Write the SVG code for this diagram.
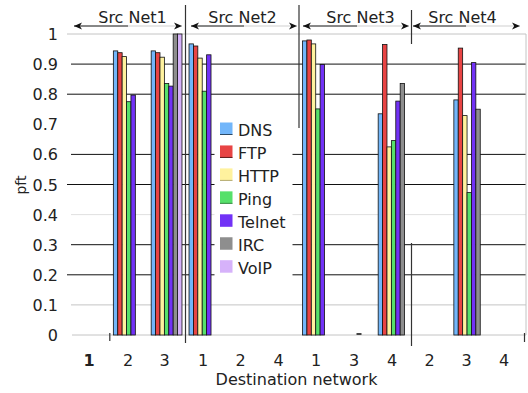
<svg xmlns="http://www.w3.org/2000/svg" width="528" height="393" viewBox="0 0 528 393">
  <style>
    text { font-family: "DejaVu Sans", Verdana, sans-serif; font-size: 16px; fill: #222; }
    .yl { text-anchor: end; }
    .xl { text-anchor: middle; }
    .hd { text-anchor: middle; }
    .gd { stroke: #111; stroke-width: 1; }
    .gl { stroke: #c4c4c4; stroke-width: 1; }
    .bar { stroke: #111; stroke-width: 0.8; }
    .dns { fill: #72b6fa; }
    .ftp { fill: #e84444; }
    .http { fill: #fff29e; }
    .ping { fill: #56e06a; }
    .telnet { fill: #7232f6; }
    .irc { fill: #8e8e8e; }
    .voip { fill: #d6b2fa; }
    .sep { stroke: #333; stroke-width: 1.2; }
    .arrA { stroke: #111; stroke-width: 1; fill: none; }
    .arrB { stroke: #cfcfcf; stroke-width: 1; fill: none; }
  </style>
  <defs>
    <marker id="ah" viewBox="0 0 8 8" refX="8" refY="4" markerWidth="8" markerHeight="8" orient="auto-start-reverse" markerUnits="userSpaceOnUse">
      <path d="M0,0.6 L8,4 L0,7.4 L2.2,4 Z" fill="#111"/>
    </marker>
  </defs>

  <rect width="528" height="393" fill="#fff"/>

  <!-- gridlines: 1 at y=34, 0 at y=335 -->
  <g id="grid">
    <line class="gl" x1="67" y1="34" x2="526" y2="34"/>
    <line class="gd" x1="71" y1="64.1" x2="526" y2="64.1"/>
    <line class="gd" x1="67" y1="94.2" x2="526" y2="94.2"/>
    <line class="gd" x1="71" y1="154.4" x2="526" y2="154.4"/>
    <line class="gd" x1="67" y1="184.5" x2="526" y2="184.5"/>
    <line class="gl" x1="71" y1="214.6" x2="526" y2="214.6" stroke-opacity="0.5"/>
    <line class="gd" x1="71" y1="244.7" x2="526" y2="244.7"/>
    <line class="gd" x1="67" y1="274.8" x2="526" y2="274.8"/>
    <line class="gl" x1="71" y1="304.9" x2="526" y2="304.9"/>
    <line class="gl" x1="72" y1="335" x2="526" y2="335"/>
    <line class="gl" x1="526" y1="34" x2="526" y2="335"/>
  </g>

  <!-- y axis labels -->
  <g id="y-axis">
    <text class="yl" x="58" y="40">1</text>
    <text class="yl" x="58" y="70.1">0.9</text>
    <text class="yl" x="58" y="100.2">0.8</text>
    <text class="yl" x="58" y="130.3">0.7</text>
    <text class="yl" x="58" y="160.4">0.6</text>
    <text class="yl" x="58" y="190.5">0.5</text>
    <text class="yl" x="58" y="220.6">0.4</text>
    <text class="yl" x="58" y="250.7">0.3</text>
    <text class="yl" x="58" y="280.8">0.2</text>
    <text class="yl" x="58" y="310.9">0.1</text>
    <text class="yl" x="58" y="341">0</text>
    <text x="22" y="185" transform="rotate(-90 22 185)" text-anchor="middle" dominant-baseline="middle" style="font-size:14px">pft</text>
  </g>

  <!-- bars: category width 37.83, bar width 4.4 -->
  <g id="bars">
    <!-- Src Net1 -> 2 -->
    <rect class="bar dns" x="113.35" y="50.9" width="4.4" height="284.1"/>
    <rect class="bar ftp" x="117.75" y="52.7" width="4.4" height="282.3"/>
    <rect class="bar http" x="122.15" y="56.6" width="4.4" height="278.4"/>
    <rect class="bar ping" x="126.55" y="101.7" width="4.4" height="233.3"/>
    <rect class="bar telnet" x="130.95" y="95.1" width="4.4" height="239.9"/>
    <!-- Src Net1 -> 3 -->
    <rect class="bar dns" x="151.18" y="50.9" width="4.4" height="284.1"/>
    <rect class="bar ftp" x="155.58" y="52.7" width="4.4" height="282.3"/>
    <rect class="bar http" x="159.98" y="57.2" width="4.4" height="277.8"/>
    <rect class="bar ping" x="164.38" y="83.4" width="4.4" height="251.6"/>
    <rect class="bar telnet" x="168.78" y="86.1" width="4.4" height="248.9"/>
    <rect class="bar irc" x="173.18" y="34" width="4.4" height="301"/>
    <rect class="bar voip" x="177.58" y="34" width="4.4" height="301"/>
    <!-- Src Net2 -> 1 -->
    <rect class="bar dns" x="189.02" y="43.9" width="4.4" height="291.1"/>
    <rect class="bar ftp" x="193.42" y="46" width="4.4" height="289"/>
    <rect class="bar http" x="197.82" y="58.1" width="4.4" height="276.9"/>
    <rect class="bar ping" x="202.22" y="91.2" width="4.4" height="243.8"/>
    <rect class="bar telnet" x="206.62" y="54.8" width="4.4" height="280.2"/>
    <!-- Src Net3 -> 1 -->
    <rect class="bar dns" x="302.52" y="40.9" width="4.4" height="294.1"/>
    <rect class="bar ftp" x="306.92" y="40" width="4.4" height="295"/>
    <rect class="bar http" x="311.32" y="43.9" width="4.4" height="291.1"/>
    <rect class="bar ping" x="315.72" y="108.9" width="4.4" height="226.1"/>
    <rect class="bar telnet" x="320.12" y="64.4" width="4.4" height="270.6"/>
    <!-- Src Net3 -> 3 -->
    <rect x="356.5" y="333" width="5" height="2" fill="#444"/>
    <!-- Src Net3 -> 4 -->
    <rect class="bar dns" x="378.18" y="113.8" width="4.4" height="221.2"/>
    <rect class="bar ftp" x="382.58" y="44.5" width="4.4" height="290.5"/>
    <rect class="bar http" x="386.98" y="146.9" width="4.4" height="188.1"/>
    <rect class="bar ping" x="391.38" y="140.6" width="4.4" height="194.4"/>
    <rect class="bar telnet" x="395.78" y="101.1" width="4.4" height="233.9"/>
    <rect class="bar irc" x="400.18" y="83.4" width="4.4" height="251.6"/>
    <!-- Src Net4 -> 3 -->
    <rect class="bar dns" x="453.85" y="99.9" width="4.4" height="235.1"/>
    <rect class="bar ftp" x="458.25" y="48.1" width="4.4" height="286.9"/>
    <rect class="bar http" x="462.65" y="115.6" width="4.4" height="219.4"/>
    <rect class="bar ping" x="467.05" y="192.6" width="4.4" height="142.4"/>
    <rect class="bar telnet" x="471.45" y="62.6" width="4.4" height="272.4"/>
    <rect class="bar irc" x="475.85" y="109.2" width="4.4" height="225.8" stroke="#666"/>
  </g>

  <!-- source network separators and ticks -->
  <g id="separators">
    <line class="sep" x1="185.5" y1="5" x2="185.5" y2="343"/>
    <line class="sep" x1="299" y1="5" x2="299" y2="128"/>
    <line class="sep" x1="411.5" y1="10" x2="411.5" y2="44"/>
    <line class="sep" x1="411.5" y1="243" x2="411.5" y2="346"/>
    <line class="sep" x1="109.8" y1="333" x2="109.8" y2="341"/>
    <line class="sep" x1="524.5" y1="333" x2="524.5" y2="342"/>
  </g>

  <!-- source network headers -->
  <g id="headers">
    <text class="hd" x="132.5" y="23">Src Net1</text>
    <path class="arrA" d="M74,26 H128" marker-start="url(#ah)"/>
    <path class="arrB" d="M128,26 H182" marker-end="url(#ah)"/>
    <text class="hd" x="242.5" y="23">Src Net2</text>
    <path class="arrA" d="M191,26 H244" marker-start="url(#ah)"/>
    <path class="arrB" d="M244,26 H297" marker-end="url(#ah)"/>
    <text class="hd" x="360.5" y="23">Src Net3</text>
    <path class="arrA" d="M303,26 H357" marker-start="url(#ah)"/>
    <path class="arrB" d="M357,26 H409" marker-end="url(#ah)"/>
    <text class="hd" x="462.5" y="23">Src Net4</text>
    <path class="arrA" d="M413,26 H466" marker-start="url(#ah)"/>
    <path class="arrB" d="M466,26 H520" marker-end="url(#ah)"/>
  </g>

  <!-- destination network labels -->
  <g id="x-axis">
    <text class="xl" x="89" y="366" font-weight="bold">1</text>
    <text class="xl" x="128" y="366">2</text>
    <text class="xl" x="164.5" y="366">3</text>
    <text class="xl" x="203" y="366">1</text>
    <text class="xl" x="240.5" y="366">2</text>
    <text class="xl" x="278.5" y="366">4</text>
    <text class="xl" x="316" y="366">1</text>
    <text class="xl" x="354" y="366">3</text>
    <text class="xl" x="392" y="366">4</text>
    <text class="xl" x="429.5" y="366">2</text>
    <text class="xl" x="466.5" y="366">3</text>
    <text class="xl" x="504" y="366">4</text>
    <text class="xl" x="296.5" y="385">Destination network</text>
  </g>

  <!-- legend -->
  <g id="legend">
    <rect x="214.5" y="99" width="78" height="191" fill="#fff"/>
    <g id="legend-dns">
      <rect class="dns" x="220" y="122.5" width="12.5" height="12.5"/>
      <line x1="220" y1="134.5" x2="232.5" y2="134.5" stroke="#000" stroke-opacity="0.6"/>
      <text x="238" y="136">DNS</text>
    </g>
    <g id="legend-ftp">
      <rect class="ftp" x="220" y="145.45" width="12.5" height="12.5"/>
      <line x1="220" y1="157.45" x2="232.5" y2="157.45" stroke="#000" stroke-opacity="0.6"/>
      <text x="238" y="158.95">FTP</text>
    </g>
    <g id="legend-http">
      <rect class="http" x="220" y="168.4" width="12.5" height="12.5"/>
      <line x1="220" y1="180.4" x2="232.5" y2="180.4" stroke="#000" stroke-opacity="0.3"/>
      <text x="238" y="181.9">HTTP</text>
    </g>
    <g id="legend-ping">
      <rect class="ping" x="220" y="191.35" width="12.5" height="12.5"/>
      <line x1="220" y1="203.35" x2="232.5" y2="203.35" stroke="#000" stroke-opacity="0.4"/>
      <text x="238" y="204.85">Ping</text>
    </g>
    <g id="legend-telnet">
      <rect class="telnet" x="220" y="214.3" width="12.5" height="12.5"/>
      <text x="238" y="227.8">Telnet</text>
    </g>
    <g id="legend-irc">
      <rect class="irc" x="220" y="237.25" width="12.5" height="12.5"/>
      <text x="238" y="250.75">IRC</text>
    </g>
    <g id="legend-voip">
      <rect class="voip" x="220" y="260.2" width="12.5" height="12.5"/>
      <text x="238" y="273.7">VoIP</text>
    </g>
  </g>
</svg>
